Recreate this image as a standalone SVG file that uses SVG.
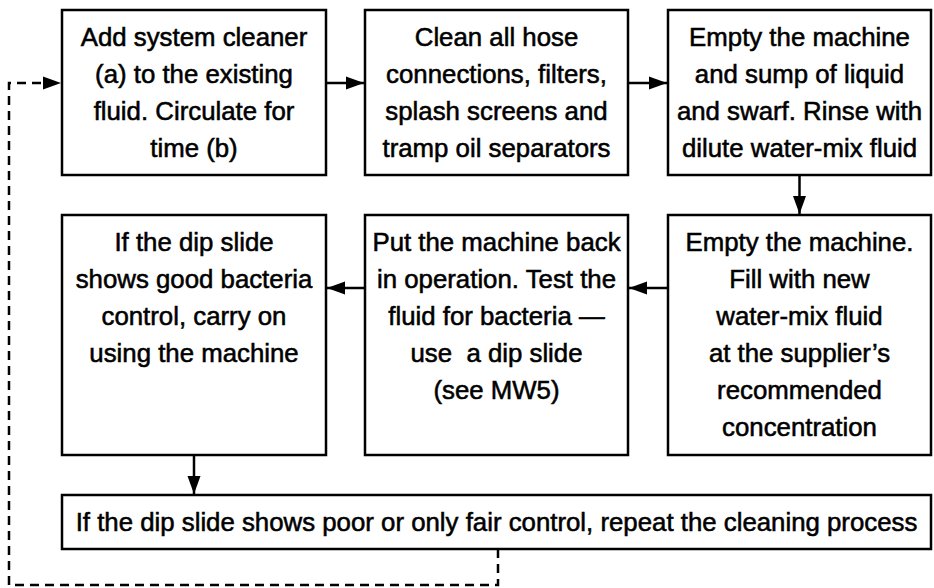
<svg xmlns="http://www.w3.org/2000/svg" width="934" height="588" viewBox="0 0 934 588">
<style>
.box{fill:#fff;stroke:#000;stroke-width:2.5}
.t{font-family:"Liberation Sans",Arial,Helvetica,sans-serif;font-size:25.8px;fill:#000;stroke:#000;stroke-width:0.55;text-anchor:middle;white-space:pre}
.c{fill:none;stroke:#000;stroke-width:2.5}
.d{fill:none;stroke:#000;stroke-width:2.5;stroke-dasharray:9 6}
</style>
<defs>
<marker id="ah" markerUnits="userSpaceOnUse" markerWidth="19" markerHeight="14" refX="18" refY="7" orient="auto">
<path d="M0,0.5 L18,7 L0,13.5 z" fill="#000"/>
</marker>
</defs>
<g id="connectors">
<line class="c" x1="326" y1="83" x2="364" y2="83" marker-end="url(#ah)"/>
<line class="c" x1="628" y1="83" x2="667" y2="83" marker-end="url(#ah)"/>
<line class="c" x1="799.5" y1="175" x2="799.5" y2="214" marker-end="url(#ah)"/>
<line class="c" x1="668" y1="288" x2="629" y2="288" marker-end="url(#ah)"/>
<line class="c" x1="365" y1="288" x2="327" y2="288" marker-end="url(#ah)"/>
<line class="c" x1="194" y1="455" x2="194" y2="494" marker-end="url(#ah)"/>
<polyline class="d" points="498,549 498,585 9,585 9,83 61,83" marker-end="url(#ah)"/>
</g>
<g id="n1">
<rect class="box" x="62" y="10" width="264" height="165"/>
<text class="t" x="194" y="46">Add system cleaner</text>
<text class="t" x="194" y="83">(a) to the existing</text>
<text class="t" x="194" y="120">fluid. Circulate for</text>
<text class="t" x="194" y="157">time (b)</text>
</g>
<g id="n2">
<rect class="box" x="365" y="10" width="263" height="165"/>
<text class="t" x="496.5" y="46">Clean all hose</text>
<text class="t" x="496.5" y="83">connections, filters,</text>
<text class="t" x="496.5" y="120">splash screens and</text>
<text class="t" x="496.5" y="157">tramp oil separators</text>
</g>
<g id="n3">
<rect class="box" x="668" y="10" width="263" height="165"/>
<text class="t" x="799.5" y="46">Empty the machine</text>
<text class="t" x="799.5" y="83">and sump of liquid</text>
<text class="t" x="799.5" y="120">and swarf. Rinse with</text>
<text class="t" x="799.5" y="157">dilute water-mix fluid</text>
</g>
<g id="n4">
<rect class="box" x="62" y="215" width="264" height="240"/>
<text class="t" x="194" y="251">If the dip slide</text>
<text class="t" x="194" y="288">shows good bacteria</text>
<text class="t" x="194" y="325">control, carry on</text>
<text class="t" x="194" y="362">using the machine</text>
</g>
<g id="n5">
<rect class="box" x="365" y="215" width="263" height="240"/>
<text class="t" x="496.5" y="251">Put the machine back</text>
<text class="t" x="496.5" y="288">in operation. Test the</text>
<text class="t" x="496.5" y="325">fluid for bacteria —</text>
<text class="t" x="496.5" y="362" xml:space="preserve">use  a dip slide</text>
<text class="t" x="496.5" y="399">(see MW5)</text>
</g>
<g id="n6">
<rect class="box" x="668" y="215" width="263" height="240"/>
<text class="t" x="799.5" y="251">Empty the machine.</text>
<text class="t" x="799.5" y="288">Fill with new</text>
<text class="t" x="799.5" y="325">water-mix fluid</text>
<text class="t" x="799.5" y="362">at the supplier’s</text>
<text class="t" x="799.5" y="399">recommended</text>
<text class="t" x="799.5" y="436">concentration</text>
</g>
<g id="n7">
<rect class="box" x="62" y="495" width="869" height="54"/>
<text class="t" x="496.5" y="531">If the dip slide shows poor or only fair control, repeat the cleaning process</text>
</g>
</svg>
